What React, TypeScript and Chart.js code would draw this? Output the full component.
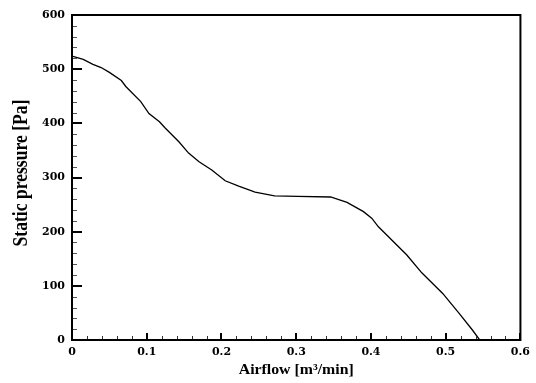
import { useEffect, useRef } from "react";
import { Chart, registerables } from "chart.js";

Chart.register(...registerables);

// Airflow [m³/min]
const airflow = [
  0, 0.015, 0.028, 0.039, 0.05, 0.066, 0.072, 0.092, 0.103, 0.117, 0.125, 0.143,
  0.156, 0.17, 0.187, 0.205, 0.223, 0.245, 0.271, 0.302, 0.346, 0.368, 0.39,
  0.401, 0.41, 0.448, 0.468, 0.496, 0.518, 0.536, 0.545, 0.55,
];
// Static pressure [Pa]
const pressure = [
  524, 518, 509, 503, 494, 479, 468, 440, 418, 403, 391, 366, 345, 329, 314, 294,
  284, 273, 266, 265, 264, 254, 237, 225, 209, 157, 124, 86, 49, 18, 1, 0,
];
const xMajorTicks = [0, 0.1, 0.2, 0.3, 0.4, 0.5, 0.6];
const yMajorTicks = [0, 100, 200, 300, 400, 500, 600];
const xTitle = "Airflow [m³/min]";
const yTitle = "Static pressure [Pa]";

const framePlugin = {
  id: "frameAndTitles",
  afterDraw(chart: any) {
    const ctx = chart.ctx as CanvasRenderingContext2D;
    const { left, right, top, bottom } = chart.chartArea;
    const xs = chart.scales.x;
    const ys = chart.scales.y;
    ctx.save();
    ctx.lineCap = "butt";
    for (let i = 0; i < xMajorTicks.length - 1; i++) {
      const a = xMajorTicks[i];
      const b = xMajorTicks[i + 1];
      for (let k = 1; k < 5; k++) {
        const v = a + ((b - a) * k) / 5;
        const px = Math.round(xs.getPixelForValue(v)) + 0.5;
        ctx.strokeStyle = "#333";
        ctx.lineWidth = 1;
        ctx.beginPath();
        ctx.moveTo(px, bottom);
        ctx.lineTo(px, bottom - 4);
        ctx.stroke();
      }
    }
    for (const v of xMajorTicks) {
      const px = Math.round(xs.getPixelForValue(v));
      ctx.strokeStyle = "#000";
      ctx.lineWidth = 2;
      ctx.beginPath();
      ctx.moveTo(px, bottom);
      ctx.lineTo(px, bottom - 7);
      ctx.stroke();
    }
    for (let i = 0; i < yMajorTicks.length - 1; i++) {
      const a = yMajorTicks[i];
      const b = yMajorTicks[i + 1];
      for (let k = 1; k < 5; k++) {
        const v = a + ((b - a) * k) / 5;
        const py = Math.round(ys.getPixelForValue(v)) + 0.5;
        ctx.strokeStyle = "#555";
        ctx.lineWidth = 1;
        ctx.beginPath();
        ctx.moveTo(left, py);
        ctx.lineTo(left + 5, py);
        ctx.stroke();
      }
    }
    for (const v of yMajorTicks) {
      const py = Math.round(ys.getPixelForValue(v));
      ctx.strokeStyle = "#000";
      ctx.lineWidth = 2;
      ctx.beginPath();
      ctx.moveTo(left, py);
      ctx.lineTo(left + 10, py);
      ctx.stroke();
    }
    ctx.strokeStyle = "#000";
    ctx.lineWidth = 2;
    ctx.strokeRect(left, top, right - left, bottom - top);

    ctx.fillStyle = "#000";
    ctx.font = "bold 14px 'Liberation Serif'";
    ctx.textAlign = "center";
    ctx.textBaseline = "alphabetic";
    const xw = ctx.measureText(xTitle).width;
    const xsx = 115 / xw;
    ctx.save();
    ctx.translate((left + right) / 2, 374);
    ctx.scale(xsx, 1);
    ctx.fillText(xTitle, 0, 0);
    ctx.restore();

    ctx.font = "bold 22px 'Liberation Serif'";
    const yw = ctx.measureText(yTitle).width;
    const ysx = 147 / yw;
    ctx.save();
    ctx.translate(27, 173);
    ctx.rotate(-Math.PI / 2);
    ctx.scale(ysx, 1);
    ctx.textBaseline = "alphabetic";
    ctx.fillText(yTitle, 0, 0);
    ctx.restore();

    ctx.restore();
  },
};

export default function App() {
  const ref = useRef<HTMLCanvasElement | null>(null);
  useEffect(() => {
    document.body.style.margin = "0";
    const canvas = ref.current;
    if (!canvas) return;
    const chart = new Chart(canvas, {
      type: "line",
      data: {
        datasets: [
          {
            data: airflow.map((x, i) => ({ x, y: pressure[i] })),
            borderColor: "#000",
            borderWidth: 1.3,
            pointRadius: 0,
            tension: 0,
            fill: false,
          },
        ],
      },
      options: {
        animation: false,
        responsive: false,
        maintainAspectRatio: false,
        layout: { padding: { left: 0, top: 15, right: 11, bottom: 0 } },
        plugins: { legend: { display: false }, tooltip: { enabled: false } },
        scales: {
          x: {
            type: "linear",
            min: 0,
            max: 0.6,
            border: { display: false },
            grid: { display: false, drawTicks: false },
            afterBuildTicks: (s: any) => {
              s.ticks = xMajorTicks.map((v) => ({ value: v }));
            },
            afterFit: (s: any) => {
              s.height = 43;
            },
            ticks: {
              padding: 6,
              color: "#000",
              maxRotation: 0,
              font: { family: "'DejaVu Serif'", weight: "bold", size: 11 },
              callback: (v: any) => (Number(v) === 0 ? "0" : Number(v).toFixed(1)),
            },
          },
          y: {
            type: "linear",
            min: 0,
            max: 600,
            border: { display: false },
            grid: { display: false, drawTicks: false },
            afterBuildTicks: (s: any) => {
              s.ticks = yMajorTicks.map((v) => ({ value: v }));
            },
            afterFit: (s: any) => {
              s.width = 72;
            },
            ticks: {
              padding: 7,
              color: "#000",
              font: { family: "'DejaVu Serif'", weight: "bold", size: 11 },
              callback: (v: any) => String(v),
            },
          },
        },
      },
      plugins: [framePlugin],
    });
    return () => chart.destroy();
  }, []);
  return (
    <div style={{ width: 536, height: 383 }}>
      <canvas ref={ref} width={536} height={383} style={{ display: "block" }} />
    </div>
  );
}
